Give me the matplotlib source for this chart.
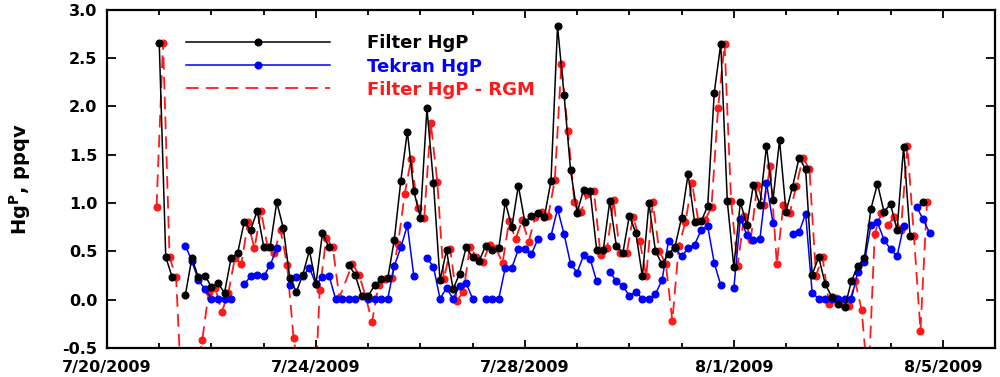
import matplotlib
matplotlib.use("Agg")
import matplotlib.pyplot as plt
import matplotlib.dates as mdates
from matplotlib.lines import Line2D
from matplotlib.ticker import FixedLocator, MultipleLocator
import numpy as np
import pandas as pd

nan = np.nan

# 3-hourly sample number counted from 7/20/2009 00:00 (samples 7..126)
sample_no = np.arange(7, 127)

filter_hgp = [
    nan, 2.66, 0.44, 0.23, nan, 0.05, 0.43, 0.23, 0.25, 0.13,
    0.17, 0.07, 0.43, 0.48, 0.80, 0.72, 0.92, 0.55, 0.55, 1.01,
    0.74, 0.22, 0.08, 0.26, 0.51, 0.16, 0.69, 0.54, nan, nan,
    0.36, 0.26, 0.04, 0.04, 0.15, 0.21, 0.22, 0.62, 1.23, 1.74,
    1.12, 0.85, 1.98, 1.21, 0.20, 0.51, 0.11, 0.27, 0.54, 0.44,
    0.40, 0.56, 0.51, 0.53, 1.01, 0.75, 1.18, 0.80, 0.87, 0.90,
    0.86, 1.23, 2.83, 2.12, 1.34, 0.90, 1.14, 1.12, 0.51, 0.51,
    1.02, 0.56, 0.48, 0.87, 0.69, 0.24, 1.00, 0.50, 0.37, 0.47,
    0.55, 0.85, 1.30, 0.80, 0.81, 0.97, 2.14, 2.65, 1.02, 0.34,
    1.01, 0.77, 1.19, 0.98, 1.59, 1.03, 1.65, 0.91, 1.17, 1.47,
    1.35, 0.26, 0.44, 0.16, 0.03, -0.05, -0.08, 0.19, 0.35, 0.43,
    0.94, 1.20, 0.91, 0.99, 0.72, 1.58, 0.66, nan, 1.01, nan,
]

tekran_hgp = [
    nan, nan, nan, nan, nan, 0.56, 0.40, 0.20, 0.11, 0.01,
    0.01, 0.01, 0.01, nan, 0.16, 0.24, 0.26, 0.24, 0.36, 0.53,
    nan, 0.15, 0.23, 0.24, 0.33, 0.16, 0.23, 0.25, 0.01, 0.01,
    0.01, 0.01, nan, 0.01, 0.01, 0.01, 0.01, 0.35, 0.54, 0.77,
    0.24, nan, 0.43, 0.34, 0.01, 0.12, 0.01, 0.14, 0.17, 0.01,
    nan, 0.01, 0.01, 0.01, 0.33, 0.33, 0.52, 0.52, 0.47, 0.63,
    nan, 0.66, 0.94, 0.68, 0.37, 0.28, 0.46, 0.42, 0.19, nan,
    0.29, 0.19, 0.14, 0.04, 0.08, 0.01, 0.01, 0.06, 0.20, 0.61,
    0.53, 0.45, 0.53, 0.57, 0.72, 0.76, 0.38, 0.15, nan, 0.12,
    0.84, 0.67, 0.62, 0.63, 1.21, 0.79, nan, nan, 0.68, 0.70,
    0.89, 0.07, 0.01, 0.01, 0.01, 0.01, 0.01, 0.01, 0.29, 0.39,
    0.77, 0.80, 0.62, 0.52, 0.45, 0.76, nan, 0.96, 0.83, 0.69,
]

filter_minus_rgm = [
    0.96, 2.66, 0.44, 0.23, -1.2, nan, -0.8, -0.42, 0.08, 0.12,
    -0.13, 0.07, 0.43, 0.37, 0.80, 0.53, 0.92, 0.55, 0.48, 0.72,
    0.36, -0.40, -0.85, nan, -1.4, 0.10, 0.64, 0.54, 0.02, nan,
    0.37, 0.26, 0.04, -0.23, 0.15, 0.21, 0.22, 0.58, 1.09, 1.46,
    0.95, 0.85, 1.83, 1.22, 0.21, 0.52, -0.01, 0.08, 0.55, 0.44,
    0.39, 0.57, 0.53, 0.38, 0.81, 0.63, 0.82, 0.60, 0.86, 0.91,
    0.87, 1.24, 2.44, 1.75, 1.01, 0.91, 1.09, 1.12, 0.46, 0.53,
    1.03, 0.48, 0.48, 0.86, 0.61, 0.24, 1.01, 0.50, 0.37, -0.22,
    0.56, 0.80, 1.21, 0.81, 0.82, 0.96, 1.98, 2.65, 1.02, 0.35,
    0.87, 0.62, 1.19, 0.98, 1.38, 0.37, 0.98, 0.90, 1.18, 1.47,
    1.35, 0.25, 0.44, -0.04, 0.02, -0.05, -0.07, 0.19, -0.11, -0.9,
    0.68, 0.90, 0.77, 0.86, 0.72, 1.59, 0.66, -0.32, 1.01, nan,
]

tick_days = ["2009-07-20", "2009-07-24", "2009-07-28", "2009-08-01", "2009-08-05"]

start = pd.Timestamp("2009-07-20")
times = start + pd.to_timedelta(sample_no * 3, unit="h")
times_rgm = times + pd.Timedelta(minutes=105)

black = np.array(filter_hgp)
blue = np.array(tekran_hgp)
red = np.array(filter_minus_rgm)
ok = ~np.isnan(red)

plt.rcParams["font.family"] = "DejaVu Sans"
plt.rcParams["font.weight"] = "bold"

RED = "#ff1a1a"
BLUE = "#0000ff"
MS = 4.8

fig = plt.figure(figsize=(10, 3.77), dpi=100)
ax = fig.add_axes([0.107, 0.077, 0.888, 0.897])

ax.plot(times_rgm[ok], red[ok], color=RED, lw=1.3, ls=(0, (7, 4)),
        marker="o", ms=MS, mec=RED, mfc=RED, zorder=2)
ax.plot(times, blue, color=BLUE, lw=1.1, marker="o", ms=MS, zorder=3)
ax.plot(times, black, color="black", lw=1.1, marker="o", ms=MS, zorder=4)

ax.set_xlim(pd.Timestamp("2009-07-20"), pd.Timestamp("2009-08-06"))
ax.set_ylim(-0.5, 3.0)

major = [mdates.date2num(pd.Timestamp(d)) for d in tick_days]
ax.xaxis.set_major_locator(FixedLocator(major))
ax.xaxis.set_minor_locator(mdates.DayLocator())
ax.xaxis.set_major_formatter(
    plt.FuncFormatter(lambda v, p: "{d.month}/{d.day}/{d.year}".format(d=mdates.num2date(v))))
ax.yaxis.set_major_locator(MultipleLocator(0.5))
ax.yaxis.set_major_formatter(plt.FuncFormatter(lambda v, p: f"{v:.1f}"))

ax.tick_params(axis="x", which="major", direction="in", length=6, width=1.3,
               top=True, labelsize=11.5, pad=9)
ax.tick_params(axis="x", which="minor", direction="in", length=3.6, width=1.3, top=True)
ax.tick_params(axis="y", direction="in", length=6.5, width=1.3, right=True,
               labelsize=11.5, pad=7)
for s in ax.spines.values():
    s.set_linewidth(1.6)

ax.set_ylabel(r"Hg$^{\mathbf{P}}$, ppqv", fontsize=14, fontweight="bold")
ax.yaxis.set_label_coords(-0.083, 0.5)

handles = [
    Line2D([], [], color="black", lw=1.1, marker="o", ms=MS),
    Line2D([], [], color=BLUE, lw=1.1, marker="o", ms=MS),
    Line2D([], [], color=RED, lw=1.3, ls=(0, (7, 4))),
]
ax.legend(handles, ["Filter HgP", "Tekran HgP", "Filter HgP - RGM"],
          loc="upper left", bbox_to_anchor=(0.089, 0.927), frameon=False,
          handlelength=8.0, handletextpad=2.0, labelspacing=0.28,
          borderpad=0, borderaxespad=0, fontsize=13,
          labelcolor=["black", BLUE, RED])

fig.savefig("out.png", dpi=100)
